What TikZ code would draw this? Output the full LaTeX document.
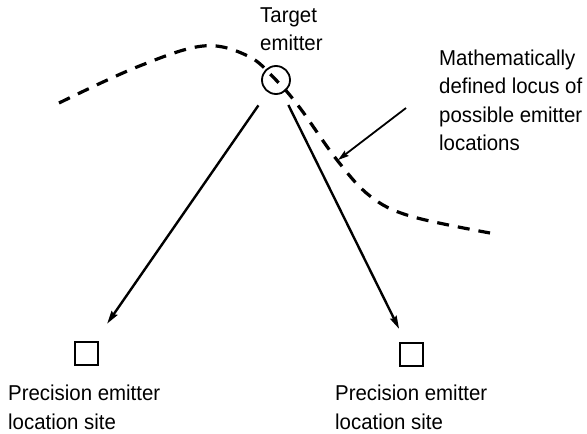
\documentclass[tikz,border=0pt]{standalone}
\usepackage{fontspec}
\setmainfont{Liberation Sans}[FakeStretch=0.95]
\usetikzlibrary{arrows.meta}

\begin{document}
\begin{tikzpicture}[
	x=1pt, y=-1pt,
	every node/.style={font=\fontsize{21.5}{28.5}\selectfont},
	note/.style={inner sep=0pt, align=left, anchor=base west},
	site/.style={draw, line width=2pt, minimum size=23pt, inner sep=0pt},
	emitter/.style={draw, circle, line width=1.8pt, minimum size=28pt, inner sep=0pt},
	bearing/.style={line width=2.4pt, -{Stealth[length=13pt, width=7pt, inset=1.5pt]}},
	pointer/.style={line width=1.8pt, -{Stealth[length=11pt, width=6.5pt, inset=1.5pt]}},
	locus/.style={line width=3.2pt, dash pattern=on 12pt off 9pt}
]
\useasboundingbox (0,0) rectangle (587,434);

\node[emitter] (tgt) at (276,80) {};
\node[note] (tgtlbl) at (260,50.7) {Target\\emitter};

\node[site] (siteA) at (86.5,353.5) {};
\node[site] (siteB) at (411.5,354) {};
\node[note] (siteAlbl) at (8,429) {Precision emitter\\location site};
\node[note] (siteBlbl) at (335,429) {Precision emitter\\location site};

\node[note] (locuslbl) at (439,150.7) {Mathematically\\defined locus of\\possible emitter\\locations};

% locus of possible positions
\draw[locus] plot[smooth, tension=0.6] coordinates {
	(59,103) (137,67) (203,46) (248,56) (276,80) (300,108)
	(337,160) (370,196) (410,216) (490,233)};

\draw[bearing, shorten <=16pt, shorten >=21pt] (tgt) -- (siteA);
\draw[bearing, shorten <=13pt, shorten >=14pt] (tgt) -- (siteB);

\coordinate (tail) at (406,108);
\coordinate (onlocus) at (338,160);
\draw[pointer] (tail) -- (onlocus);
\end{tikzpicture}
\end{document}
